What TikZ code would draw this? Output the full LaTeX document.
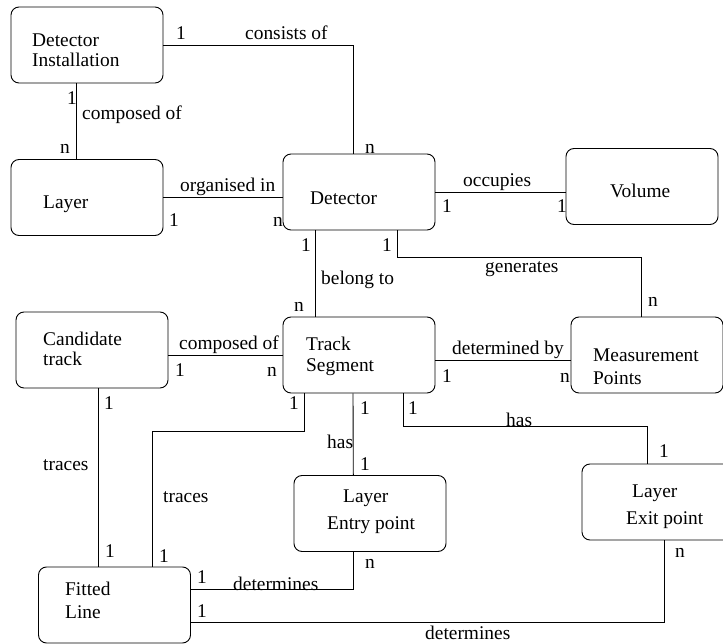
\documentclass[tikz,border=0pt]{standalone}
\usepackage{fontspec}
\setmainfont{Liberation Serif}
\usetikzlibrary{calc}
\begin{document}
\begin{tikzpicture}[x=1pt,y=-1pt,
  entity/.style={draw, rounded corners=8pt, minimum width=152pt, minimum height=76pt, inner sep=0pt, line width=0.9pt},
  link/.style={draw, line width=0.9pt},
  lbl/.style={anchor=base west, inner sep=0pt, font=\fontsize{19.4}{20}\selectfont},
]
\useasboundingbox (0,0) rectangle (723,644);
\clip (0,0) rectangle (723,644);

% entities
\node[entity] (di)    at (87,45)      {};
\node[entity] (lay)   at (87,197.5)   {};
\node[entity] (det)   at (359,192)    {};
\node[entity] (vol)   at (642,186.5)  {};
\node[entity] (ct)    at (92,350)     {};
\node[entity] (ts)    at (359,355)    {};
\node[entity] (mp)    at (647,355)    {};
\node[entity] (entry) at (370,513.5)  {};
\node[entity] (exit)  at (658,502)    {};
\node[entity] (fl)    at (114.5,605)  {};

% entity texts
\node[lbl] (di1) at (32,47) {Detector};
\node[lbl] (di2) at (32,67) {Installation};
\node[lbl] (lay1) at (43,209) {Layer};
\node[lbl] (det1) at (310,205) {Detector};
\node[lbl] (vol1) at (610,198) {Volume};
\node[lbl] (ct1) at (43,345) {Candidate};
\node[lbl] (ct2) at (43,366) {track};
\node[lbl] (ts1) at (306,350) {Track};
\node[lbl] (ts2) at (306,371) {Segment};
\node[lbl] (mp1) at (593,361) {Measurement};
\node[lbl] (mp2) at (593,384) {Points};
\node[lbl] (en1) at (343,502) {Layer};
\node[lbl] (en2) at (327,529) {Entry point};
\node[lbl] (ex1) at (632,497) {Layer};
\node[lbl] (ex2) at (626,524) {Exit point};
\node[lbl] (fl1) at (65,595) {Fitted};
\node[lbl] (fl2) at (65,618) {Line};

% relationships
\draw[link] (di.east) -| ($(det.north)+(-6,0)$);
\draw[link] ($(di.south)+(-11,0)$) -- ($(lay.north)+(-11,0)$);
\draw[link] (lay.east) -- (det.west |- lay.east);
\draw[link] (det.east) -- (vol.west |- det.east);
\draw[link] ($(det.south)+(-44,0)$) -- ($(ts.north)+(-44,0)$);
\draw[link] ($(det.south)+(38,0)$) |- ($(mp.north)+(-6,-59)$) -- ($(mp.north)+(-6,0)$);
\draw[link] (ts.west) -- (ct.east |- ts.west);
\draw[link] ($(ts.east)+(0,5)$) -- ($(mp.west)+(0,5)$);
\draw[link] ($(ct.south)+(6,0)$) -- ($(fl.north)+(-16.5,0)$);
\draw[link] ($(ts.south)+(-55,0)$) -- ++(0,38) -| ($(fl.north)+(37.5,0)$);
\draw[link] ($(ts.south)+(-6,0)$) -- ($(entry.north)+(-16.7,0)$);
\draw[link] ($(ts.south)+(44,0)$) -- ++(0,33) -| ($(exit.north)+(-10.7,0)$);
\draw[link] ($(fl.east)+(0,-16)$) -| ($(entry.south)+(-16.7,0)$);
\draw[link] ($(fl.east)+(0,17)$) -| ($(exit.south)+(6,0)$);

% relationship names
\node[lbl] (r1) at (245,40) {consists of};
\node[lbl] (r2) at (82,120) {composed of};
\node[lbl] (r3) at (180,192) {organised in};
\node[lbl] (r4) at (463,187) {occupies};
\node[lbl] (r5) at (321,285) {belong to};
\node[lbl] (r6) at (485,273) {generates};
\node[lbl] (r7) at (179,349) {composed of};
\node[lbl] (r8) at (452,355) {determined by};
\node[lbl] (r9) at (43,470) {traces};
\node[lbl] (r10) at (163,502) {traces};
\node[lbl] (r11) at (327,448) {has};
\node[lbl] (r12) at (506,426) {has};
\node[lbl] (r13) at (233,590) {determines};
\node[lbl] (r14) at (425,639) {determines};

% cardinalities
\node[lbl] (c1) at (176,40) {1};
\node[lbl] (c2) at (365,154) {n};
\node[lbl] (c3) at (67,105) {1};
\node[lbl] (c4) at (60,154) {n};
\node[lbl] (c5) at (169,227) {1};
\node[lbl] (c6) at (273,227) {n};
\node[lbl] (c7) at (442,213) {1};
\node[lbl] (c8) at (557,213) {1};
\node[lbl] (c9) at (301,252) {1};
\node[lbl] (c10) at (294,312) {n};
\node[lbl] (c11) at (382,252) {1};
\node[lbl] (c12) at (648,307) {n};
\node[lbl] (c13) at (175,376) {1};
\node[lbl] (c14) at (267,376) {n};
\node[lbl] (c15) at (442,382) {1};
\node[lbl] (c16) at (560,382) {n};
\node[lbl] (c17) at (104,409) {1};
\node[lbl] (c18) at (105,557) {1};
\node[lbl] (c19) at (289,409) {1};
\node[lbl] (c20) at (159,562) {1};
\node[lbl] (c21) at (360,414) {1};
\node[lbl] (c22) at (360,470) {1};
\node[lbl] (c23) at (408,414) {1};
\node[lbl] (c24) at (659,457) {1};
\node[lbl] (c25) at (197,583) {1};
\node[lbl] (c26) at (365,568) {n};
\node[lbl] (c27) at (197,617) {1};
\node[lbl] (c28) at (675,557) {n};
\end{tikzpicture}
\end{document}
